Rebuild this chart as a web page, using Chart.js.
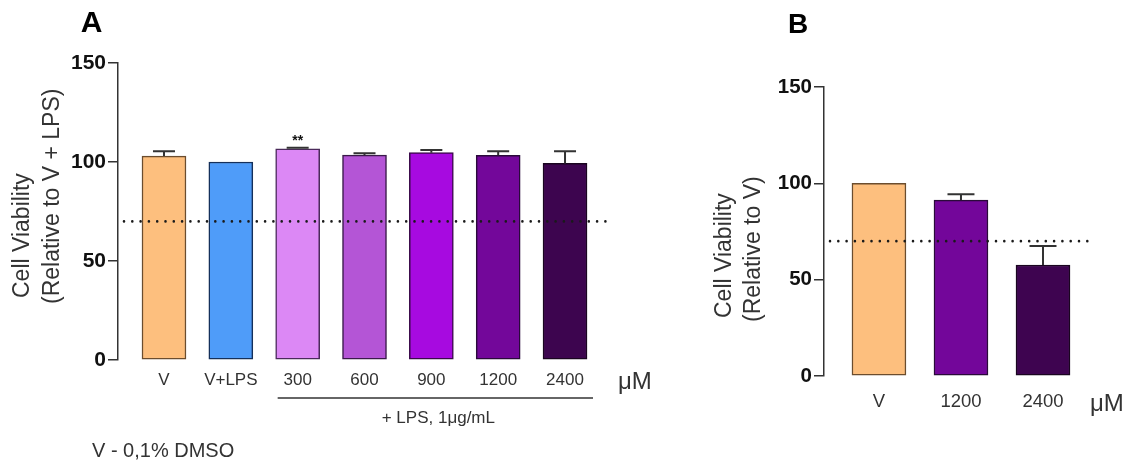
<!DOCTYPE html>
<html>
<head>
<meta charset="utf-8">
<title>Cell viability</title>
<script src="https://cdn.jsdelivr.net/npm/chart.js@4/dist/chart.umd.min.js"></script>
<style>
  html, body { margin: 0; padding: 0; background: #ffffff; }
  #wrap { position: relative; width: 1131px; height: 464px; overflow: hidden; }
  #wrap canvas { position: absolute; top: 0; }
  #panelA { left: 0; }
  #panelB { left: 660px; }
</style>
</head>
<body>
<div id="wrap">
  <canvas id="panelA" width="660" height="464"></canvas>
  <canvas id="panelB" width="471" height="464"></canvas>
</div>
<script>
// Panel A: viability relative to V + LPS
const panelACategories = ['V', 'V+LPS', '300', '600', '900', '1200', '2400'];
const panelAValues = [103.0, 100, 106.7, 103.5, 104.7, 103.4, 99.3];
const panelAErrors = [2.4, 0, 0.5, 0.9, 1.4, 2.0, 6.1];
const panelAFill = ['#FDBF7E', '#4F9CF9', '#DC88F5', '#B455D6', '#A70AE0', '#73079A', '#3D054F'];
const panelABorder = ['#6B4D2E', '#15305A', '#4A2A5A', '#3A1A4A', '#3A0A4A', '#2A0A3A', '#1A0520'];
const panelASignificance = ['', '', '**', '', '', '', ''];

// Panel B: viability relative to V
const panelBCategories = ['V', '1200', '2400'];
const panelBValues = [100, 91.3, 57.6];
const panelBErrors = [0, 3.0, 9.9];
const panelBFill = ['#FDBF7E', '#73069A', '#3E0450'];
const panelBBorder = ['#6B4D2E', '#2A0A3A', '#1A0520'];

// Shared axis settings
const yTickValues = [0, 50, 100, 150];
const viabilityThreshold = 70;

const SANS = '"Liberation Sans", Arial, Helvetica, sans-serif';
const INK = '#333333';

function drawText(ctx, text, x, y, font, align, color, angle) {
  ctx.save();
  ctx.font = font;
  ctx.fillStyle = color || INK;
  ctx.textAlign = align || 'left';
  ctx.textBaseline = 'alphabetic';
  ctx.translate(x, y);
  if (angle) ctx.rotate(angle);
  ctx.fillText(text, 0, 0);
  ctx.restore();
}

// Error bars (upper whisker only) and the dotted 70 % line
function panelPlugin(id, errors, capWidth, decorate) {
  return {
    id: id,
    afterDatasetsDraw(chart) {
      const ctx = chart.ctx;
      const xs = chart.scales.x, ys = chart.scales.y;
      const area = chart.chartArea;
      const values = chart.data.datasets[0].data;

      ctx.save();
      ctx.strokeStyle = INK;
      ctx.lineWidth = 2;
      ctx.lineCap = 'butt';
      values.forEach((pt, i) => {
        const e = errors[i];
        if (!e) return;
        const x = xs.getPixelForValue(pt.x);
        const y0 = ys.getPixelForValue(pt.y);
        const y1 = ys.getPixelForValue(pt.y + e);
        ctx.beginPath();
        ctx.moveTo(x, y0);
        ctx.lineTo(x, y1);
        ctx.moveTo(x - capWidth / 2, y1);
        ctx.lineTo(x + capWidth / 2, y1);
        ctx.stroke();
      });
      ctx.restore();

      const yRef = ys.getPixelForValue(viabilityThreshold);
      ctx.save();
      ctx.strokeStyle = '#1a1a1a';
      ctx.lineWidth = 2.6;
      ctx.lineCap = 'round';
      ctx.setLineDash([0, 8.3]);
      ctx.beginPath();
      ctx.moveTo(area.left + 6, yRef);
      ctx.lineTo(area.right, yRef);
      ctx.stroke();
      ctx.restore();
    },
    afterDraw(chart) {
      decorate(chart);
    }
  };
}

function baseOptions(cfg) {
  return {
    responsive: false,
    animation: false,
    layout: { padding: { top: cfg.top, bottom: cfg.bottom, left: 0, right: cfg.right } },
    plugins: { legend: { display: false }, tooltip: { enabled: false } },
    scales: {
      x: {
        type: 'linear',
        offset: false,
        min: cfg.xMin,
        max: cfg.xMax,
        grid: { display: false, drawTicks: false, offset: false },
        border: { display: false },
        ticks: {
          stepSize: 1,
          autoSkip: false,
          maxRotation: 0,
          includeBounds: false,
          padding: cfg.labelPad,
          color: INK,
          font: { family: SANS, size: cfg.labelSize },
          callback: (v) => Number.isInteger(v) && cfg.labels[v] !== undefined ? cfg.labels[v] : ''
        },
        afterFit: (s) => { s.height = 40; }
      },
      y: {
        min: 0,
        max: 150,
        afterBuildTicks: (s) => { s.ticks = yTickValues.map(v => ({ value: v })); },
        grid: { display: true, drawOnChartArea: false, drawTicks: true, tickLength: 10, color: INK, lineWidth: 1.5 },
        border: { display: true, color: INK, width: 1.5 },
        ticks: {
          padding: 2,
          color: '#111111',
          font: { family: SANS, size: cfg.tickSize, weight: 'bold' }
        },
        afterFit: (s) => { s.width = cfg.axisX; }
      }
    }
  };
}

function barDataset(values, fill, border, thickness) {
  return {
    data: values.map((v, i) => ({ x: i, y: v })),
    backgroundColor: fill,
    borderColor: border,
    borderWidth: 1.5,
    borderSkipped: false,
    barThickness: thickness
  };
}

// ---------- Panel A ----------
new Chart(document.getElementById('panelA'), {
  type: 'bar',
  data: { datasets: [barDataset(panelAValues, panelAFill, panelABorder, 44)] },
  options: baseOptions({
    top: 63, bottom: 64, right: 660 - 608,
    xMin: -0.688, xMax: 6.643,
    labels: panelACategories, labelSize: 17, labelPad: 10,
    tickSize: 21, axisX: 118
  }),
  plugins: [panelPlugin('panelAExtras', panelAErrors, 22, (chart) => {
    const ctx = chart.ctx;
    const xs = chart.scales.x, ys = chart.scales.y;
    drawText(ctx, 'A', 91.5, 32, 'bold 30px ' + SANS, 'center', '#000000');
    drawText(ctx, 'Cell Viability', 29, 298, '23px ' + SANS, 'left', INK, -Math.PI / 2);
    drawText(ctx, '(Relative to V + LPS)', 59, 304, '23px ' + SANS, 'left', INK, -Math.PI / 2);

    panelASignificance.forEach((mark, i) => {
      if (!mark) return;
      const x = xs.getPixelForValue(i);
      const y = ys.getPixelForValue(panelAValues[i] + panelAErrors[i]) - 3;
      drawText(ctx, mark, x, y, 'bold 14px ' + SANS, 'center', '#111111');
    });

    drawText(ctx, 'μM', 618, 389, '24px ' + SANS, 'left', INK);

    // bracket under the LPS-treated groups
    const x0 = xs.getPixelForValue(2) - 20;
    const x1 = xs.getPixelForValue(6) + 28;
    ctx.save();
    ctx.strokeStyle = INK;
    ctx.lineWidth = 1.5;
    ctx.beginPath();
    ctx.moveTo(x0, 398);
    ctx.lineTo(x1, 398);
    ctx.stroke();
    ctx.restore();
    drawText(ctx, '+ LPS, 1μg/mL', (x0 + x1) / 2 + 3, 423, '17px ' + SANS, 'center', INK);
    drawText(ctx, 'V - 0,1% DMSO', 92, 457, '20px ' + SANS, 'left', INK);
  })]
});

// ---------- Panel B ----------
new Chart(document.getElementById('panelB'), {
  type: 'bar',
  data: { datasets: [barDataset(panelBValues, panelBFill, panelBBorder, 54)] },
  options: baseOptions({
    top: 87, bottom: 48, right: 471 - 435,
    xMin: -0.67, xMax: 2.634,
    labels: panelBCategories, labelSize: 18.5, labelPad: 15,
    tickSize: 20.5, axisX: 164
  }),
  plugins: [panelPlugin('panelBExtras', panelBErrors, 27, (chart) => {
    const ctx = chart.ctx;
    drawText(ctx, 'B', 798 - 660, 33, 'bold 28px ' + SANS, 'center', '#000000');
    drawText(ctx, 'Cell Viability', 731 - 660, 318, '23px ' + SANS, 'left', INK, -Math.PI / 2);
    drawText(ctx, '(Relative to V)', 760 - 660, 322, '23px ' + SANS, 'left', INK, -Math.PI / 2);
    drawText(ctx, 'μM', 1090 - 660, 411, '24px ' + SANS, 'left', INK);
  })]
});
</script>
</body>
</html>
